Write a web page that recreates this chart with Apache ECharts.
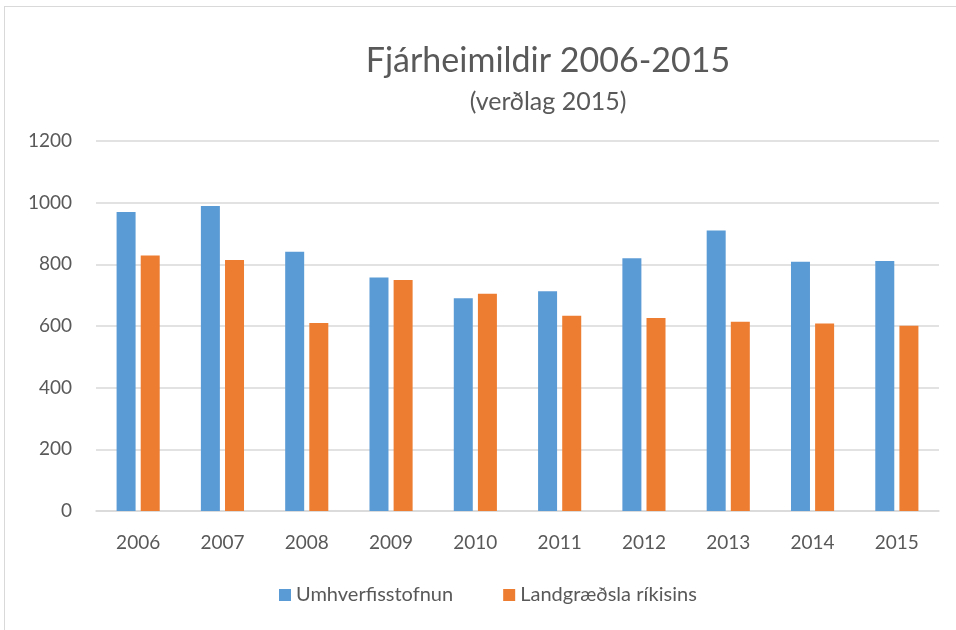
<!DOCTYPE html>
<html>
<head>
<meta charset="utf-8">
<script src="https://cdn.jsdelivr.net/npm/echarts@6/dist/echarts.min.js"></script>
<style>
  html, body { margin: 0; padding: 0; background: #fff; }
  #frame { position: absolute; left: 4px; top: 6px; width: 960px; height: 640px; border: 1px solid #d9d9d9; box-sizing: border-box; }
  #chart { position: absolute; left: 0; top: 0; width: 956px; height: 630px; }
</style>
</head>
<body>
<div id="frame"></div>
<div id="chart"></div>
<script>
const years = ["2006", "2007", "2008", "2009", "2010", "2011", "2012", "2013", "2014", "2015"];
const umhverfisstofnun = [970, 989, 841, 757, 690, 713, 820, 910, 808, 811];
const landgraedsla = [829, 814, 610, 749, 705, 633, 626, 614, 608, 601];
const yTicks = [0, 200, 400, 600, 800, 1000, 1200];

const font = "Lato, 'Open Sans', sans-serif";
const myChart = echarts.init(document.getElementById("chart"));

var options = {
  animation: false,
  title: [
    {
      text: "Fjárheimildir 2006-2015",
      left: 543,
      top: 39,
      textAlign: "center",
      textStyle: { fontFamily: font, fontSize: 34, fontWeight: "normal", color: "#595959" },
    },
    {
      text: "(verðlag 2015)",
      left: 543,
      top: 84,
      textAlign: "center",
      textStyle: { fontFamily: font, fontSize: 25, fontWeight: "normal", color: "#595959" },
    },
  ],
  legend: {
    data: ["Umhverfisstofnun", "Landgræðsla ríkisins"],
    bottom: 20,
    left: 274,
    itemWidth: 12,
    itemHeight: 12,
    itemGap: 50,
    icon: "rect",
    textStyle: { fontFamily: font, fontSize: 20, color: "#595959" },
  },
  grid: {
    left: 96,
    right: 17,
    top: 141,
    bottom: 119,
  },
  xAxis: {
    type: "category",
    data: years,
    axisLine: { lineStyle: { color: "#d9d9d9", width: 1.5 } },
    axisTick: { show: false },
    axisLabel: { fontFamily: font, fontSize: 19, color: "#595959", margin: 22 },
  },
  yAxis: {
    type: "value",
    min: yTicks[0],
    max: yTicks[yTicks.length - 1],
    interval: 200,
    axisLine: { show: false },
    axisTick: { show: false },
    splitLine: { lineStyle: { color: "#d9d9d9", width: 1.5 } },
    axisLabel: {
      fontFamily: font,
      fontSize: 19,
      color: "#595959",
      margin: 24,
      formatter: (v) => String(v),
    },
  },
  series: [
    {
      name: "Umhverfisstofnun",
      type: "bar",
      data: umhverfisstofnun,
      barWidth: 19,
      barGap: "27%",
      itemStyle: { color: "#5b9bd5" },
    },
    {
      name: "Landgræðsla ríkisins",
      type: "bar",
      data: landgraedsla,
      barWidth: 19,
      itemStyle: { color: "#ed7d31" },
    },
  ],
};
myChart.setOption(options);
</script>
</body>
</html>
